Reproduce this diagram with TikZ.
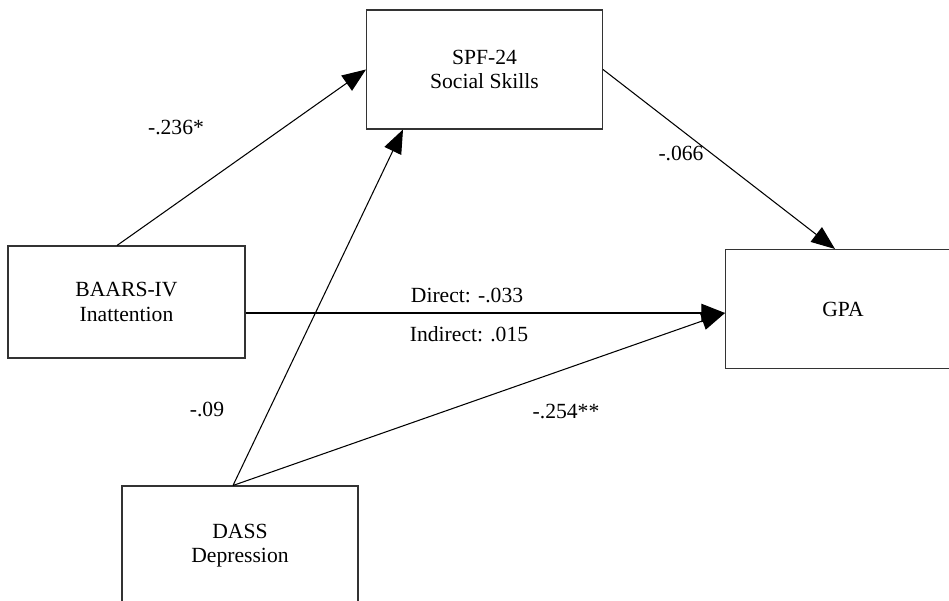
\documentclass[tikz,border=0pt]{standalone}
\usepackage{fontspec}
\setmainfont{Liberation Serif}
\usetikzlibrary{arrows.meta,positioning}

\begin{document}
\begin{tikzpicture}[
  x=0.02cm, y=-0.02cm,
  var/.style={draw=black!80, line width=0.6pt, fill=white,
    minimum width=4.72cm, minimum height=2.38cm, align=center, inner sep=2pt,
    font=\fontsize{12.3}{13.8}\selectfont},
  path/.style={-{Triangle[length=13.5pt, width=10.5pt]}, line width=0.6pt, draw=black},
  coef/.style={font=\fontsize{12.3}{13.8}\selectfont, inner sep=1pt}
]
  \useasboundingbox (0,0) rectangle (949,601);

  % Variables — fixed positions (pixel grid, y downward)
  \node[var] (spf)   at (484.5, 69.5) {SPF-24\\Social Skills};
  \node[var, minimum width=4.74cm, minimum height=2.24cm]
                     (baars) at (126.5, 302) {BAARS-IV\\Inattention};
  \node[var] (gpa)   at (843, 309) {GPA};
  \node[var] (dass)  at (240, 545.5) {DASS\\Depression};

  % Common entry point on GPA
  \coordinate (gpain) at (725, 313);

  % Paths
  \draw[path] ([xshift=-0.19cm]baars.north) -- (spf.west);
  \draw[path] (spf.east) -- ([xshift=-0.16cm]gpa.north);
  \draw[path] (baars.east |- gpain) -- (gpain);
  \draw[path] ([xshift=-0.14cm]dass.north) -- ([xshift=-1.63cm]spf.south);
  \draw[path] ([xshift=-0.14cm]dass.north) -- (gpain);

  % Coefficients
  \node[coef] (c1) at (176, 128) {-.236*};
  \node[coef] (c2) at (681, 153) {-.066};
  \node[coef] (c3) at (467, 295) {Direct: -.033};
  \node[coef] (c4) at (469, 334) {Indirect: .015};
  \node[coef] (c5) at (207, 409) {-.09};
  \node[coef] (c6) at (566, 411) {-.254**};

\end{tikzpicture}
\end{document}
